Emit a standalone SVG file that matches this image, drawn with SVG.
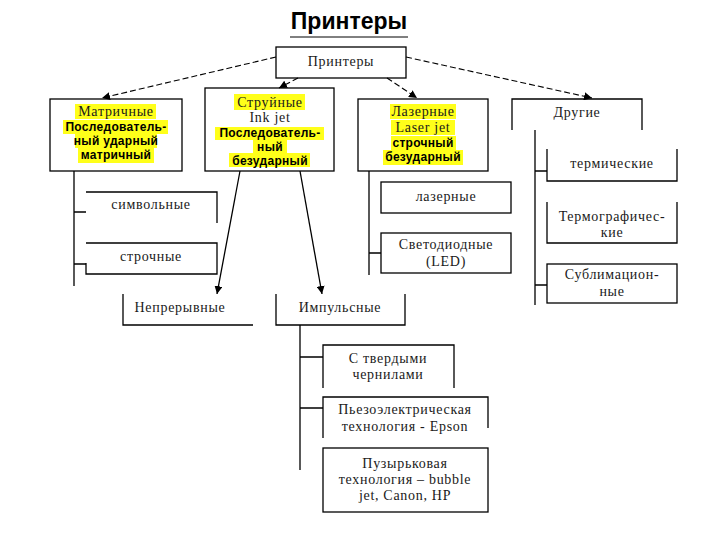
<svg xmlns="http://www.w3.org/2000/svg" width="720" height="540" viewBox="0 0 720 540">
<style>
.bx{fill:none;stroke:#000;stroke-width:1.3}
.ln{fill:none;stroke:#000;stroke-width:1.3}
.da{fill:none;stroke:#000;stroke-width:1.1;stroke-dasharray:6 3}
.sr{font-family:"Liberation Serif","Times New Roman",serif;font-size:14px;letter-spacing:0.7px;fill:#1a1a1a;text-anchor:middle}
.bd{font-family:"Liberation Sans",Arial,sans-serif;font-size:12px;letter-spacing:0.3px;font-weight:bold;fill:#000;text-anchor:middle}
.hl{fill:#ffff1a}
</style>
<defs>
<marker id="ah" viewBox="0 0 10 10" refX="10" refY="5" markerWidth="8" markerHeight="8" markerUnits="userSpaceOnUse" orient="auto">
<path d="M0,0 L10,5 L0,10 z" fill="#000"/>
</marker>
</defs>
<rect width="720" height="540" fill="#fff"/>

<g id="title">
<text x="349" y="29" font-family="Liberation Sans,Arial,sans-serif" font-size="23" font-weight="bold" text-anchor="middle" fill="#000">Принтеры</text>
<line x1="290" y1="37" x2="408" y2="37" stroke="#000" stroke-width="1"/>
</g>

<g id="connectors">
<line class="da" x1="276" y1="57" x2="102" y2="98" marker-end="url(#ah)"/>
<line class="da" x1="298" y1="78" x2="279" y2="88" marker-end="url(#ah)"/>
<line class="da" x1="387" y1="78" x2="417" y2="98" marker-end="url(#ah)"/>
<line class="da" x1="406" y1="57" x2="592" y2="98" marker-end="url(#ah)"/>
<line class="ln" x1="240" y1="171" x2="217" y2="294" marker-end="url(#ah)"/>
<line class="ln" x1="300" y1="171" x2="322" y2="294" marker-end="url(#ah)"/>
<path class="ln" d="M74,171 V286 M74,212 H86 M74,264 H86"/>
<path class="ln" d="M369,171 V275 M369,253 H381"/>
<path class="ln" d="M535,130 V305 M535,171 H547 M535,285 H547"/>
<path class="ln" d="M300,325 V470 M300,357 H323 M300,408 H323"/>
</g>

<g id="printers">
<rect class="bx" x="276" y="47" width="130" height="31"/>
<text class="sr" x="341" y="66">Принтеры</text>
</g>

<g id="matrix">
<rect class="hl" x="75" y="104" width="81" height="15"/>
<rect class="hl" x="63" y="120" width="105" height="14"/>
<rect class="hl" x="75" y="134" width="82" height="14"/>
<rect class="hl" x="78" y="148" width="76" height="15"/>
<rect class="bx" x="50" y="99" width="132" height="72"/>
<text class="sr" x="116" y="116">Матричные</text>
<text class="bd" x="116" y="131">Последователь-</text>
<text class="bd" x="116" y="145">ный ударный</text>
<text class="bd" x="116" y="159">матричный</text>
</g>

<g id="inkjet">
<rect class="hl" x="234" y="94" width="71" height="16"/>
<rect class="hl" x="215" y="127" width="109" height="13"/>
<rect class="hl" x="253" y="140" width="34" height="13"/>
<rect class="hl" x="229" y="153" width="81" height="14"/>
<rect class="bx" x="205" y="88" width="129" height="83"/>
<text class="sr" x="270" y="107">Струйные</text>
<text class="sr" x="270" y="122">Ink jet</text>
<text class="bd" x="270" y="137">Последователь-</text>
<text class="bd" x="270" y="151">ный</text>
<text class="bd" x="270" y="165">безударный</text>
</g>

<g id="laser">
<rect class="hl" x="390" y="104" width="66" height="15"/>
<rect class="hl" x="391" y="120" width="64" height="15"/>
<rect class="hl" x="391" y="136" width="65" height="14"/>
<rect class="hl" x="383" y="150" width="80" height="15"/>
<rect class="bx" x="358" y="99" width="130" height="72"/>
<text class="sr" x="423" y="116">Лазерные</text>
<text class="sr" x="423" y="132">Laser jet</text>
<text class="bd" x="423" y="147">строчный</text>
<text class="bd" x="423" y="161">безударный</text>
</g>

<g id="other">
<path class="bx" d="M512,130 V99 H642 V130"/>
<text class="sr" x="577" y="117">Другие</text>
</g>

<g id="symbol">
<path class="bx" d="M86,192 H217 V223"/>
<text class="sr" x="151" y="209">символьные</text>
</g>

<g id="line-matrix">
<path class="bx" d="M86,263 V274 H217 V243 H86"/>
<text class="sr" x="151" y="261">строчные</text>
</g>

<g id="laser-sub">
<rect class="bx" x="381" y="182" width="130" height="31"/>
<text class="sr" x="446" y="201">лазерные</text>
</g>

<g id="led">
<rect class="bx" x="381" y="233" width="130" height="40"/>
<text class="sr" x="446" y="249">Светодиодные</text>
<text class="sr" x="446" y="266">(LED)</text>
</g>

<g id="thermal">
<path class="bx" d="M547,149 V181 H677 V149"/>
<text class="sr" x="612" y="168">термические</text>
</g>

<g id="thermograph">
<path class="bx" d="M547,202 V243 H677 V202"/>
<text class="sr" x="612" y="221">Термографичес-</text>
<text class="sr" x="612" y="237">кие</text>
</g>

<g id="sublimation">
<rect class="bx" x="547" y="264" width="130" height="39"/>
<text class="sr" x="612" y="279">Сублимацион-</text>
<text class="sr" x="612" y="296">ные</text>
</g>

<g id="continuous">
<path class="bx" d="M123,294 V325 H253"/>
<text class="sr" x="180" y="312">Непрерывные</text>
</g>

<g id="impulse">
<path class="bx" d="M276,294 V325 H405 V294"/>
<text class="sr" x="340" y="312">Импульсные</text>
</g>

<g id="solid-ink">
<path class="bx" d="M323,388 V345 H454 V388"/>
<text class="sr" x="388" y="363">С твердыми</text>
<text class="sr" x="388" y="379">чернилами</text>
</g>

<g id="piezo">
<path class="bx" d="M323,438 V397 H488 V428"/>
<text class="sr" x="405" y="414">Пьезоэлектрическая</text>
<text class="sr" x="405" y="431">технология - Epson</text>
</g>

<g id="bubble">
<rect class="bx" x="323" y="448" width="165" height="64"/>
<text class="sr" x="405" y="468">Пузырьковая</text>
<text class="sr" x="405" y="484">технология – bubble</text>
<text class="sr" x="405" y="500">jet, Canon, HP</text>
</g>
</svg>
